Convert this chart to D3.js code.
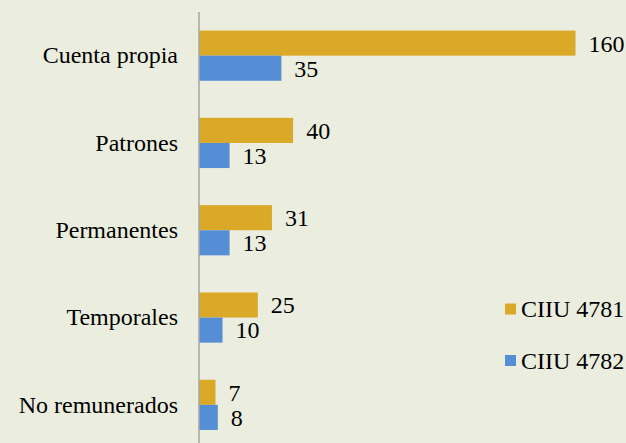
<!DOCTYPE html>
<html>
<head>
<meta charset="utf-8">
<script src="https://cdn.jsdelivr.net/npm/d3@7/dist/d3.min.js"></script>
<style>
  html, body { margin: 0; padding: 0; background: #EBEEDF; }
  svg { display: block; }
  text { font-family: "Times New Roman", "Liberation Serif", serif; fill: #000; }
</style>
</head>
<body>
<svg id="chart" width="626" height="443"></svg>
<script>
// Ocupados por categoría ocupacional
const categories = ["Cuenta propia", "Patrones", "Permanentes", "Temporales", "No remunerados"];
const seriesNames = ["CIIU 4781", "CIIU 4782"];
const values4781 = [160, 40, 31, 25, 7];
const values4782 = [35, 13, 13, 10, 8];
const colors = ["#DAA928", "#558ED5"];

const svg = d3.select("#chart");
const W = 626, H = 443;
const plotLeft = 199, plotTop = 12, bandH = 87.3;
const fontSize = 24;

svg.append("rect").attr("width", W).attr("height", H).attr("fill", "#EBEEDF");

const y = d3.scaleBand()
  .domain(categories)
  .range([plotTop, plotTop + bandH * categories.length])
  .paddingInner(0.425)
  .paddingOuter(0.2125);

const x = d3.scaleLinear().domain([0, 160]).range([plotLeft, 575.5]);

const sub = d3.scaleBand().domain(seriesNames).range([0, y.bandwidth()]);

const series = [values4781, values4782];

series.forEach((vals, si) => {
  const g = svg.append("g");
  g.selectAll("rect")
    .data(categories.map((c, i) => ({ c, v: vals[i] })))
    .join("rect")
    .attr("x", x(0))
    .attr("y", d => y(d.c) + sub(seriesNames[si]))
    .attr("width", d => x(d.v) - x(0))
    .attr("height", sub.bandwidth())
    .attr("fill", colors[si]);

  g.selectAll("text")
    .data(categories.map((c, i) => ({ c, v: vals[i] })))
    .join("text")
    .attr("x", d => x(d.v) + 13)
    .attr("y", d => y(d.c) + sub(seriesNames[si]) + sub.bandwidth() / 2)
    .attr("dy", "0.35em")
    .attr("font-size", fontSize)
    .text(d => d.v);
});

// category axis
const axis = d3.axisLeft(y).tickSize(0).tickPadding(21);
const ag = svg.append("g").attr("transform", `translate(${plotLeft},0)`).call(axis);
ag.select(".domain").remove();
ag.attr("font-family", null);
ag.selectAll("text")
  .attr("font-size", fontSize)
  .attr("fill", "#000");

svg.append("line")
  .attr("x1", plotLeft).attr("x2", plotLeft)
  .attr("y1", plotTop).attr("y2", H)
  .attr("stroke", "#A6A6A6").attr("stroke-width", 1.5);

// legend
const legend = svg.append("g");
seriesNames.forEach((name, i) => {
  const ly = 309 + i * 51.5;
  legend.append("rect")
    .attr("x", 505).attr("y", ly - 5.5)
    .attr("width", 11).attr("height", 11)
    .attr("fill", colors[i]);
  legend.append("text")
    .attr("x", 521).attr("y", ly)
    .attr("dy", "0.35em")
    .attr("font-size", fontSize)
    .text(name);
});
</script>
</body>
</html>
